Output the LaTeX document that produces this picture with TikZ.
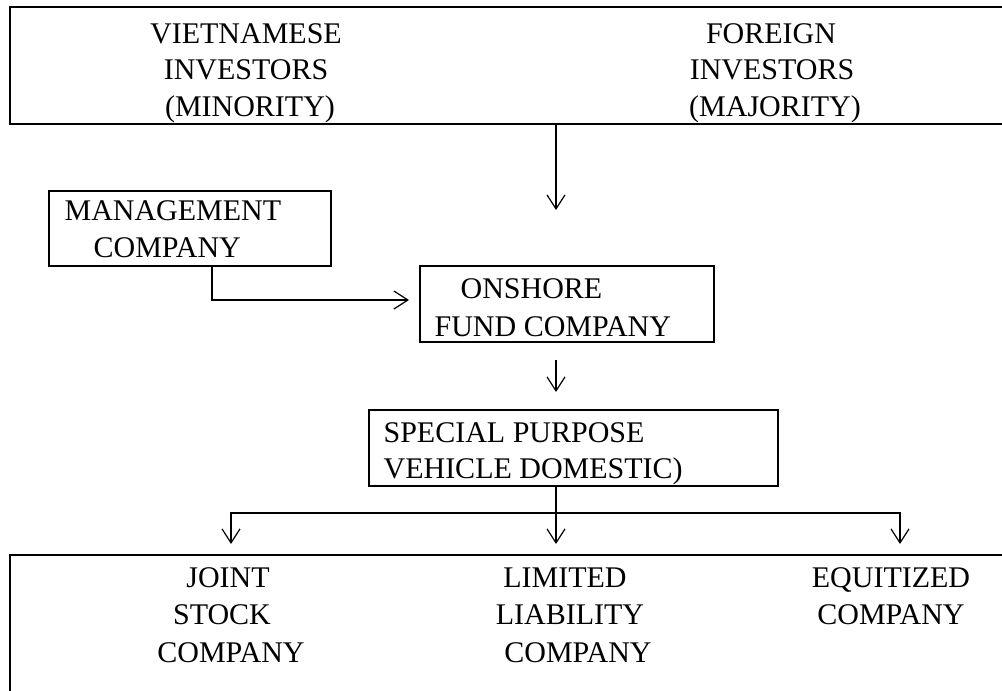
\documentclass[tikz,border=0pt]{standalone}
\usepackage{fontspec}
\setmainfont{Liberation Serif}
\usetikzlibrary{arrows.meta}
\begin{document}
\begin{tikzpicture}[x=1pt,y=-1pt, line width=1.2pt,
  box/.style={draw, rectangle, inner sep=0pt, outer sep=0pt, anchor=north west},
  lbl/.style={font=\fontsize{30}{36}\selectfont, inner sep=0pt, anchor=base},
  lbll/.style={lbl, anchor=base west},
  arr/.style={-{Straight Barb[length=14pt,width=18pt]}}]
\useasboundingbox (0,0) rectangle (1002,691);
% boxes
\node[box, minimum width=1010pt, minimum height=117pt] (top) at (10,7) {};
\node[box, minimum width=1010pt, minimum height=150pt] (bottom) at (10,555) {};
\node[box, minimum width=282pt, minimum height=75pt] (mgmt) at (49,191) {};
\node[box, minimum width=294pt, minimum height=76pt] (onshore) at (420,266) {};
\node[box, minimum width=409pt, minimum height=76pt] (spv) at (369,410) {};
% texts
\node[lbl] (t1) at (246,43) {VIETNAMESE};
\node[lbl] (t2) at (246,79) {INVESTORS};
\node[lbl] (t3) at (250,116) {(MINORITY)};
\node[lbl] (t4) at (771,43) {FOREIGN};
\node[lbl] (t5) at (772,79) {INVESTORS};
\node[lbl] (t6) at (775,116) {(MAJORITY)};
\node[lbll] (m1) at (64,220) {MANAGEMENT};
\node[lbll] (m2) at (93,257) {COMPANY};
\node[lbll] (o1) at (460,298) {ONSHORE};
\node[lbll] (o2) at (434,336) {FUND COMPANY};
\node[lbll] (s1) at (383,442) {SPECIAL PURPOSE};
\node[lbll] (s2) at (383,478) {VEHICLE DOMESTIC)};
\node[lbl] (j1) at (228,587) {JOINT};
\node[lbl] (j2) at (222,624) {STOCK};
\node[lbl] (j3) at (231,662) {COMPANY};
\node[lbl] (l1) at (565,587) {LIMITED};
\node[lbl] (l2) at (570,624) {LIABILITY};
\node[lbl] (l3) at (578,662) {COMPANY};
\node[lbl] (e1) at (891,587) {EQUITIZED};
\node[lbl] (e2) at (891,624) {COMPANY};
% connectors
\coordinate (cx) at (556,0);
\coordinate (mc) at (212,300);
\coordinate (jc) at (556,513);
\coordinate (jl) at (231,513);
\coordinate (jr) at (900,513);
\draw[arr, shorten >=56pt] (top.south -| cx) -- (onshore.north -| cx);
\draw[arr, shorten >=11pt] (mgmt.south -| mc) |- (onshore.west |- mc);
\draw[arr, shorten <=18pt, shorten >=18pt] (onshore.south -| cx) -- (spv.north -| cx);
\draw (spv.south -| cx) -- (jc);
\draw[arr, shorten >=11pt] (jc) -- (bottom.north -| jc);
\draw[arr, shorten >=11pt] (jc) -- (jl) -- (bottom.north -| jl);
\draw[arr, shorten >=11pt] (jc) -- (jr) -- (bottom.north -| jr);
\end{tikzpicture}
\end{document}
